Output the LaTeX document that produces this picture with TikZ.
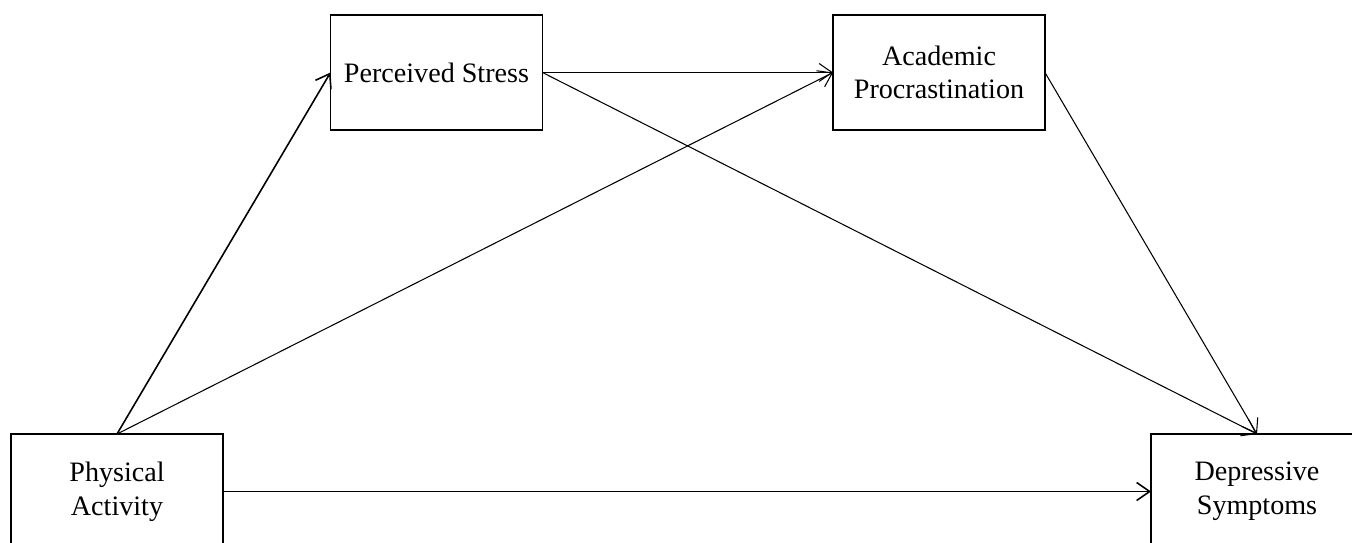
\documentclass[tikz,border=0pt]{standalone}
\usepackage{fontspec}
\setmainfont{Liberation Serif}
\usepackage{tikz}
\usetikzlibrary{arrows.meta,positioning}

\begin{document}
\begin{tikzpicture}[
  x=0.02cm, y=-0.02cm,
  box/.style={draw, line width=0.8pt, align=center, minimum width=4.24cm, minimum height=2.3cm, inner sep=0pt, outer sep=0pt, font=\fontsize{16}{19.2}\selectfont},
  arr/.style={-{Straight Barb[length=2.6mm, width=3.6mm]}, line width=0.9pt},
  thinarr/.style={arr, line width=0.6pt}
]
\useasboundingbox (0,0) rectangle (1352,543);
\clip (0,0) rectangle (1352,543);
\node[box] (pa) at (117,491.5) {Physical\\Activity};
\node[box] (ps) at (436.5,72.5) {Perceived Stress};
\node[box] (ap) at (939,72.5) {Academic\\Procrastination};
\node[box] (ds) at (1257,491.5) {Depressive\\Symptoms};
\draw[arr] (pa.north) -- (ps.west);
\draw[thinarr] (pa.north) -- (ap.west);
\draw[thinarr] (ps.east) -- (ap.west);
\draw[thinarr] (ps.east) -- (ds.north);
\draw[thinarr] (ap.east) -- (ds.north);
\draw[arr] (pa.east) -- (ds.west);
\end{tikzpicture}
\end{document}
